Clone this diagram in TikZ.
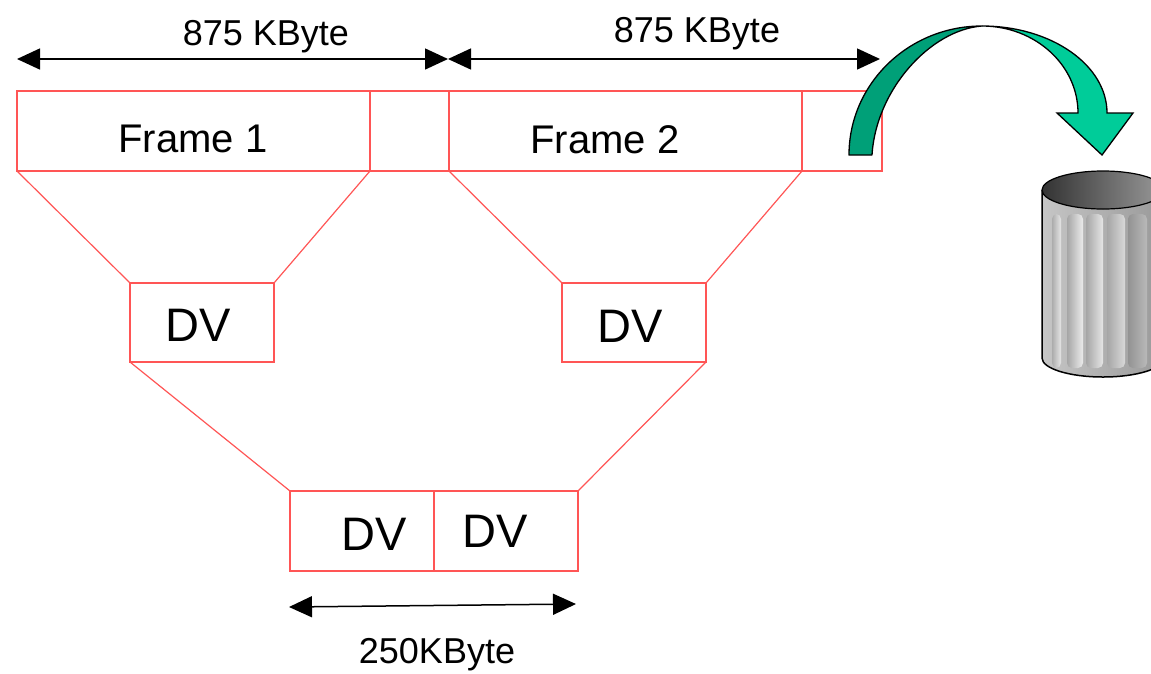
\documentclass[tikz,border=0pt]{standalone}
\usepackage{fontspec}
\setmainfont{Liberation Sans}
\usetikzlibrary{arrows.meta}

\definecolor{boxred}{RGB}{255,85,85}
\definecolor{backgreen}{RGB}{0,160,120}
\definecolor{frontgreen}{RGB}{0,204,153}

\begin{document}
\begin{tikzpicture}[x=1pt,y=-1pt,
  box/.style={draw=boxred, line width=1.5pt, rectangle, inner sep=0pt,
    outer sep=0pt, anchor=north west},
  link/.style={draw=boxred, line width=1.2pt},
  dimline/.style={line width=1.5pt,
    {Triangle[length=23pt,width=21pt]}-{Triangle[length=23pt,width=21pt]}},
  lbl/.style={anchor=base, inner sep=0pt},
  sizefont/.style={font=\fontsize{36}{40}\selectfont},
  framefont/.style={font=\fontsize{40}{44}\selectfont},
  dvfont/.style={font=\fontsize{47}{50}\selectfont},
]
\useasboundingbox (0,0) rectangle (1151,673);

% frame row
\node[box, minimum width=353pt, minimum height=80pt] (f1) at (17,91) {};
\node[box, minimum width=79pt,  minimum height=80pt] (g1) at (370,91) {};
\node[box, minimum width=353pt, minimum height=80pt] (f2) at (449,91) {};
\node[box, minimum width=80pt,  minimum height=80pt] (g2) at (802,91) {};
\node[lbl, framefont] (t1) at (193,152) {Frame 1};
\node[lbl, framefont] (t2) at (605,153) {Frame 2};

% dimension arrows above the frames
\coordinate (a0) at (17,59);
\coordinate (a1) at (448,59);
\coordinate (a2) at (880,59);
\draw[dimline] (a0) -- (a1);
\draw[dimline] (a1) -- (a2);
\node[lbl, sizefont] (s1) at (266,45) {875 KByte};
\node[lbl, sizefont] (s2) at (697,42) {875 KByte};

% compressed DV blocks
\node[box, minimum width=144pt, minimum height=79pt] (dv1) at (130,283) {};
\node[box, minimum width=144pt, minimum height=79pt] (dv2) at (562,283) {};
\node[lbl, dvfont] (d1) at (198,341) {DV};
\node[lbl, dvfont] (d2) at (630,342) {DV};

\draw[link] (f1.south west) -- (dv1.north west);
\draw[link] (g1.south west) -- (dv1.north east);
\draw[link] (f2.south west) -- (dv2.north west);
\draw[link] (g2.south west) -- (dv2.north east);

% combined block
\node[box, minimum width=144pt, minimum height=80pt] (b1) at (290,491) {};
\node[box, minimum width=144pt, minimum height=80pt] (b2) at (434,491) {};
\node[lbl, dvfont] (d3) at (374,550) {DV};
\node[lbl, dvfont] (d4) at (495,547) {DV};

\draw[link] (dv1.south west) -- (b1.north west);
\draw[link] (dv2.south east) -- (b2.north east);

\coordinate (c0) at (289,607);
\coordinate (c1) at (576,604);
\draw[dimline] (c0) -- (c1);
\node[lbl, sizefont] (s3) at (437,663) {250KByte};

% curved arrow into the bin: back face, then front face with head
\filldraw[fill=backgreen, draw=black, line width=1.3pt, line join=round]
  (849,155) arc[start angle=180, end angle=270, x radius=133, y radius=129]
  .. controls (930,30) and (876,90) .. (872,155) -- cycle;
\filldraw[fill=frontgreen, draw=black, line width=1.3pt, line join=miter]
  (982,26) arc[start angle=270, end angle=360, x radius=125, y radius=87]
  -- (1133,113) -- (1102,155) -- (1057,113) -- (1078,113)
  arc[start angle=0, end angle=-90, x radius=96, y radius=87] -- cycle;

% waste bin
\begin{scope}
\clip (0,0) rectangle (1151,673);
\path[left color=gray!45, middle color=gray!8, right color=gray!80]
  (1042,190) -- (1042,358)
  arc[start angle=180, end angle=0, x radius=61, y radius=19]
  -- (1164,190) -- cycle;
\foreach \a/\b/\l/\r in {1052/1061/65/20, 1067/1083/70/15, 1086/1103/70/20,
                         1107/1125/70/30, 1128/1147/85/55}
  \path[left color=gray!\l, right color=gray!\r, rounded corners=5pt]
    (\a,214) rectangle (\b,368);
\draw[line width=1.5pt]
  (1042,190) -- (1042,358)
  arc[start angle=180, end angle=0, x radius=61, y radius=19];
\draw[line width=1.2pt, left color=black!80, right color=black!40]
  (1103,190) ellipse[x radius=61, y radius=19];
\end{scope}
\end{tikzpicture}
\end{document}
